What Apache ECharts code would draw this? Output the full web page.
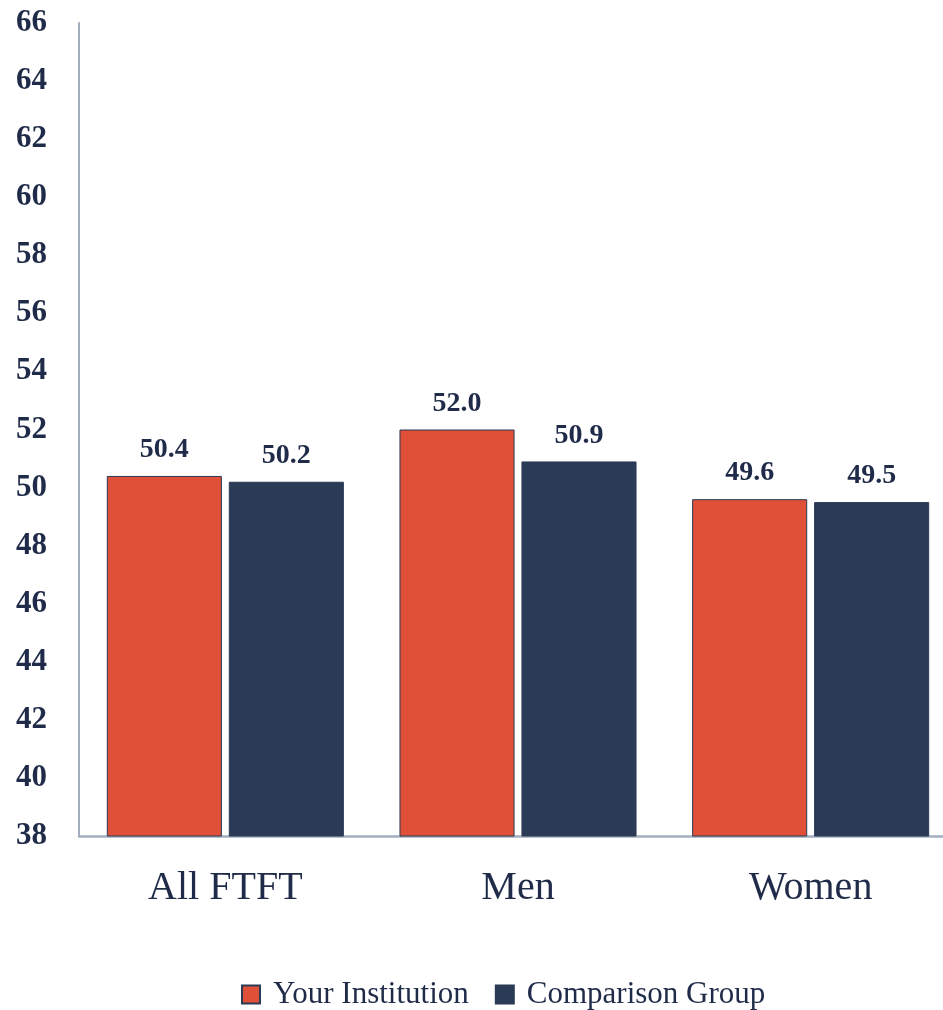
<!DOCTYPE html>
<html>
<head>
<meta charset="utf-8">
<script src="https://cdn.jsdelivr.net/npm/echarts@6/dist/echarts.min.js"></script>
<style>html,body{margin:0;padding:0;background:#fff;overflow:hidden;width:943px;height:1010px;}#c{width:957px;height:1010px;}</style>
</head>
<body>
<div id="c"></div>
<script>
const categories = ["All FTFT", "Men", "Women"];
const yourInstitution = [50.4, 52.0, 49.6];
const comparisonGroup = [50.2, 50.9, 49.5];
const seriesNames = ["Your Institution", "Comparison Group"];

const chart = echarts.init(document.getElementById('c'));
const serif = '"Liberation Serif", "DejaVu Serif", serif';
const navyText = '#1F2B48';
const labelStyle = { show: true, position: 'top', distance: 12, fontFamily: serif, fontSize: 28, fontWeight: 'bold', color: navyText, formatter: p => p.value.toFixed(1) };
chart.setOption({
  animation: false,
  grid: { left: 79, right: 0, top: 23, bottom: 174, containLabel: false },
  legend: {
    top: 974, left: 236,
    itemWidth: 18, itemHeight: 18, itemGap: 26,
    icon: 'rect',
    textStyle: { fontFamily: serif, fontSize: 31, color: navyText, padding: [0, 0, 0, 8] },
    data: seriesNames
  },
  xAxis: {
    type: 'category', data: categories,
    axisLine: { lineStyle: { color: '#A3AFBF', width: 2.5 } },
    axisTick: { show: false },
    axisLabel: { fontFamily: serif, fontSize: 40, color: navyText, margin: 32 }
  },
  yAxis: {
    type: 'value', min: 38, max: 66, interval: 2,
    axisLine: { show: true, lineStyle: { color: '#A3AFBF', width: 2 } },
    axisTick: { show: false },
    splitLine: { show: false },
    axisLabel: { fontFamily: serif, fontSize: 31, fontWeight: 'bold', color: navyText, margin: 32 }
  },
  series: [
    {
      name: seriesNames[0], type: 'bar', data: yourInstitution,
      barGap: '6%', barCategoryGap: '19%',
      itemStyle: { color: '#E04F38', borderColor: '#2B3A55', borderWidth: 1 },
      label: labelStyle
    },
    {
      name: seriesNames[1], type: 'bar', data: comparisonGroup,
      itemStyle: { color: '#2B3A55', borderColor: '#2B3A55', borderWidth: 1 },
      label: labelStyle
    }
  ]
});
</script>
</body>
</html>
